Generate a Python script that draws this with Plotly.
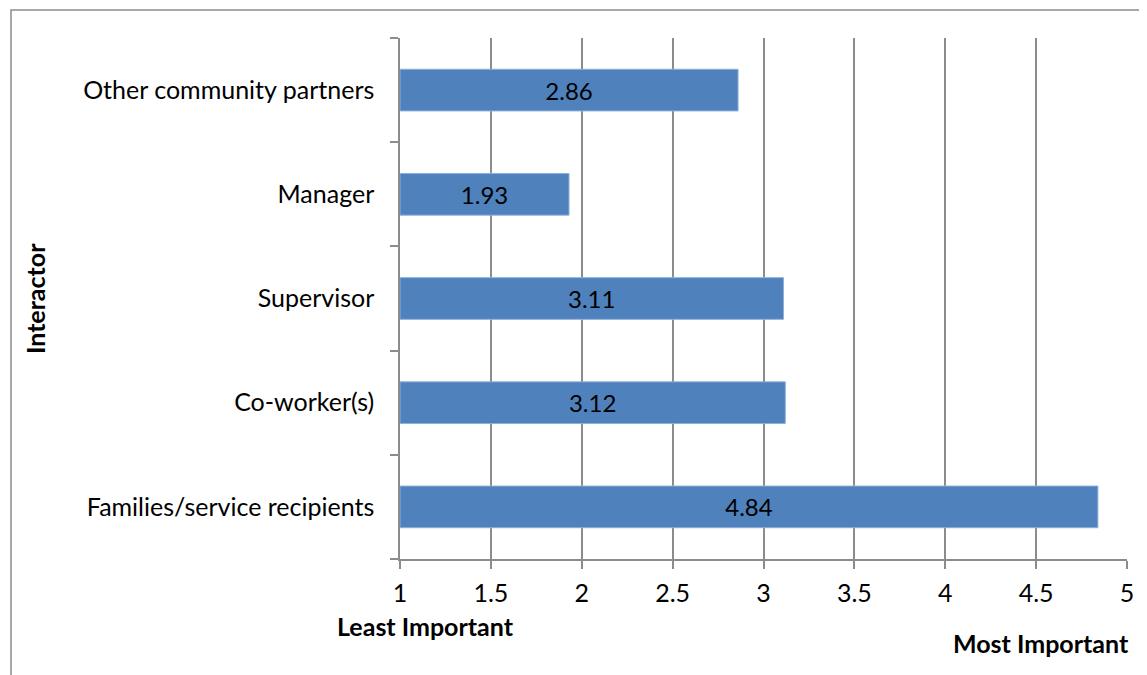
import plotly.graph_objects as go

categories = ["Families/service recipients", "Co-worker(s)", "Supervisor", "Manager", "Other community partners"]
values = [4.84, 3.12, 3.11, 1.93, 2.86]
x_ticks = [1, 1.5, 2, 2.5, 3, 3.5, 4, 4.5, 5]
x_tick_labels = ["1", "1.5", "2", "2.5", "3", "3.5", "4", "4.5", "5"]
axis_start = 1

FONT = "Lato, 'Open Sans', sans-serif"
GRID = "#8c8c8c"
FS = 25

fig = go.Figure()
fig.add_trace(go.Bar(
    y=categories,
    x=[v - axis_start for v in values],
    base=axis_start,
    orientation="h",
    width=0.4,
    marker=dict(color="#4F81BD", line=dict(color="#8EB0DA", width=1)),
    text=[f"{v:.2f}" for v in values],
    textposition="inside",
    insidetextanchor="middle",
    textfont=dict(family=FONT, size=24, color="#000000"),
    hovertext=[f"{c}: {v:.2f}" for c, v in zip(categories, values)],
    hoverinfo="text",
))

fig.update_layout(
    width=1147, height=675,
    margin=dict(l=392, r=28, t=30, b=124),
    paper_bgcolor="white", plot_bgcolor="white",
    showlegend=False,
    font=dict(family=FONT, size=FS, color="#000000"),
    xaxis=dict(
        range=[1, 5], tickvals=x_ticks, ticktext=x_tick_labels,
        showgrid=True, gridcolor=GRID, gridwidth=1.5,
        showline=True, linecolor=GRID, linewidth=1.5,
        ticks="outside", ticklen=8, tickcolor=GRID, tickwidth=1.5,
        ticklabelstandoff=3, zeroline=False, fixedrange=True,
    ),
    yaxis=dict(
        categoryorder="array", categoryarray=categories,
        showgrid=False, showline=True, linecolor=GRID, linewidth=1.5,
        ticks="outside", tickson="boundaries", ticklen=8, tickcolor=GRID, tickwidth=1.5,
        ticklabelstandoff=19, zeroline=False, fixedrange=True,
    ),
    shapes=[dict(
        type="rect", xref="paper", yref="paper",
        x0=(11 - 400) / 727, x1=1.2, y0=-0.5, y1=(559 - 10) / 521,
        line=dict(color="#8c8c8c", width=1.5), fillcolor="rgba(0,0,0,0)", layer="below",
    )],
    annotations=[
        dict(text="<b>Interactor</b>", xref="paper", yref="paper",
             x=(35 - 400) / 727, y=(559 - 298) / 521, textangle=-90, showarrow=False,
             font=dict(size=FS), xanchor="center", yanchor="middle"),
        dict(text="<b>Least Important</b>", xref="paper", yref="paper",
             x=(425 - 400) / 727, y=(559 - 626) / 521, showarrow=False,
             font=dict(size=FS), xanchor="center", yanchor="middle"),
        dict(text="<b>Most Important</b>", xref="paper", yref="paper",
             x=(1041 - 400) / 727, y=(559 - 643) / 521, showarrow=False,
             font=dict(size=FS), xanchor="center", yanchor="middle"),
    ],
)

fig.write_html("out.html")
